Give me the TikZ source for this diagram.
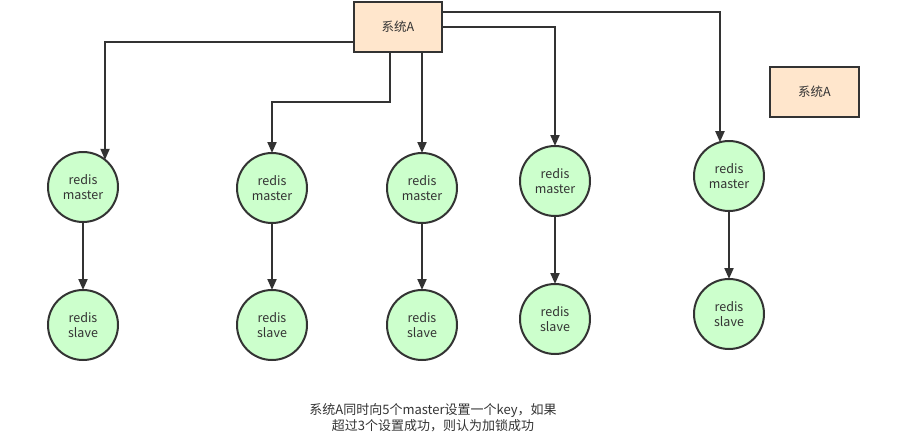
\documentclass[tikz,border=0pt]{standalone}
\usepackage{fontspec}
\setmainfont{Noto Sans CJK SC}
\usetikzlibrary{arrows.meta}
\definecolor{linec}{HTML}{333333}
\definecolor{greenf}{HTML}{CCFFCC}
\definecolor{orangef}{HTML}{FFE6CC}
\tikzset{
  redisnode/.style={circle, draw=linec, line width=2pt, fill=greenf, minimum size=70pt, inner sep=0pt, outer sep=0pt, align=center, font=\fontsize{12.5}{15}\selectfont, text=linec},
  sysbox/.style={rectangle, draw=linec, line width=2pt, fill=orangef, minimum width=88pt, minimum height=50pt, inner sep=0pt, outer sep=0pt, font=\fontsize{12.5}{15}\selectfont, text=linec},
  arr/.style={draw=linec, line width=2pt, -{Triangle[length=11pt,width=9pt]}},
}
\begin{document}
\begin{tikzpicture}[x=1pt,y=-1pt]
\useasboundingbox (0,0) rectangle (921,434);
\node[sysbox] (box) at (398,27) {系统A};
\node[sysbox, minimum width=89pt] (box2) at (814.5,92) {系统A};
\node[redisnode] (m1) at (83,187) {redis\\master};
\node[redisnode] (m2) at (272,188) {redis\\master};
\node[redisnode] (m3) at (422,188) {redis\\master};
\node[redisnode] (m4) at (555,181) {redis\\master};
\node[redisnode] (m5) at (729,176) {redis\\master};
\node[redisnode] (s1) at (83,325) {redis\\slave};
\node[redisnode] (s2) at (272,325) {redis\\slave};
\node[redisnode] (s3) at (422,325) {redis\\slave};
\node[redisnode] (s4) at (555,319) {redis\\slave};
\node[redisnode] (s5) at (729,314) {redis\\slave};
\draw[arr] ([yshift=-15pt]box.west) -| (m1.51);
\draw[arr] ([xshift=-8pt]box.south) -- ++(0,50) -| (m2.north);
\draw[arr] (m3 |- box.south) -- (m3.north);
\draw[arr] (box.east) -| (m4.north);
\draw[arr] ([yshift=15pt]box.east) -| (m5.105);
\foreach \i in {1,...,5} \draw[arr] (m\i.south) -- (s\i.north);
\node[font=\fontsize{13}{16}\selectfont, text=linec, align=center] (note) at (433,418) {系统A同时向5个master设置一个key，如果\\超过3个设置成功，则认为加锁成功};
\end{tikzpicture}
\end{document}
